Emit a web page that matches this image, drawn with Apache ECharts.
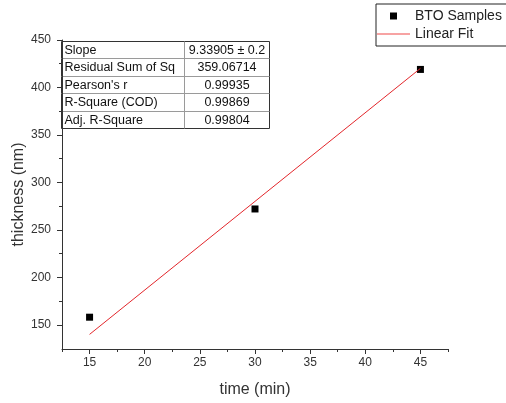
<!DOCTYPE html>
<html><head><meta charset="utf-8">
<script src="https://cdn.jsdelivr.net/npm/echarts@6/dist/echarts.min.js"></script>
<style>html,body{margin:0;padding:0;background:#fff}#c{width:506px;height:403px}</style>
</head><body><div id="c"></div>
<script>
const times = [15, 30, 45];
const thickness = [158, 272, 419];
const fitTimes = [15, 45];
const fitValues = [139.9, 420.1];
const xTicks = [15, 20, 25, 30, 35, 40, 45];
const xMinorTicks = [12.5, 17.5, 22.5, 27.5, 32.5, 37.5, 42.5, 47.5];
const yTicks = [150, 200, 250, 300, 350, 400, 450];
const yMinorTicks = [175, 225, 275, 325, 375, 425];
const tableLabels = ['Slope', 'Residual Sum of Sq', "Pearson's r", 'R-Square (COD)', 'Adj. R-Square'];
const tableValues = ['9.33905 ± 0.2', '359.06714', '0.99935', '0.99869', '0.99804'];
const seriesNames = ['BTO Samples', 'Linear Fit'];

const FONT = "'Liberation Sans', Arial, sans-serif";
const AX = '#333';
const RED = '#e3262b';

// table graphic
const rowH = [0, 17, 35, 52, 70, 87];
const colW1 = 123, tblW = 208;
const tableEls = [];
tableEls.push({type: 'rect', shape: {x: 0, y: 0, width: tblW, height: 87}, style: {fill: '#fff', stroke: '#333', lineWidth: 1}});
for (let i = 1; i < 5; i++) {
  tableEls.push({type: 'line', shape: {x1: 0, y1: rowH[i], x2: tblW, y2: rowH[i]}, style: {stroke: '#9a9a9a', lineWidth: 1}});
}
tableEls.push({type: 'line', shape: {x1: colW1, y1: 0, x2: colW1, y2: 87}, style: {stroke: '#9a9a9a', lineWidth: 1}});
tableLabels.forEach((t, i) => {
  const cy = (rowH[i] + rowH[i + 1]) / 2 + 0.5;
  tableEls.push({type: 'text', style: {text: t, x: 3, y: cy, fill: '#111', font: '12.5px ' + FONT, verticalAlign: 'middle', align: 'left'}});
  tableEls.push({type: 'text', style: {text: tableValues[i], x: colW1 + (tblW - colW1) / 2, y: cy, fill: '#111', font: '12.5px ' + FONT, verticalAlign: 'middle', align: 'center'}});
});

const chart = echarts.init(document.getElementById('c'), null, {renderer: 'canvas'});
const xBase = {type: 'value', min: 12.5, max: 47.5, splitLine: {show: false}};
const yBase = {type: 'value', min: 124.5, max: 450, splitLine: {show: false}};
chart.setOption({
  animation: false,
  backgroundColor: '#fff',
  textStyle: {fontFamily: FONT},
  grid: {left: 62, right: 58, top: 40, bottom: 51},
  legend: {
    orient: 'vertical', left: 376, top: 4,
    padding: [5, 40, 5, 1],
    borderColor: '#222', borderWidth: 1,
    itemWidth: 33, itemHeight: 7, itemGap: 4,
    symbolKeepAspect: true,
    textStyle: {fontSize: 14, color: '#222', fontFamily: FONT, lineHeight: 14},
    data: [
      {name: seriesNames[0], icon: 'path://M0,0H10V10H0Z', itemStyle: {color: '#000', opacity: 1}},
      {name: seriesNames[1], icon: 'path://M0,0H33V1.2H0Z', itemStyle: {color: '#f04848'}}
    ]
  },
  xAxis: [
    Object.assign({}, xBase, {
      name: 'time (min)', nameLocation: 'middle', nameGap: 33, nameMoveOverlap: false,
      nameTextStyle: {fontSize: 16, color: '#333', fontFamily: FONT},
      axisLine: {show: true, lineStyle: {color: AX, width: 1}},
      axisTick: {show: true, length: 5, customValues: xTicks, lineStyle: {color: AX}},
      axisLabel: {customValues: xTicks, fontSize: 12, color: '#333', margin: 8, fontFamily: FONT}
    }),
    Object.assign({}, xBase, {
      position: 'bottom',
      axisLine: {show: false},
      axisTick: {show: true, length: 3, customValues: xMinorTicks, lineStyle: {color: AX}},
      axisLabel: {show: false}
    })
  ],
  yAxis: [
    Object.assign({}, yBase, {
      name: 'thickness (nm)', nameLocation: 'middle', nameGap: 35, nameRotate: 90, nameMoveOverlap: false,
      nameTextStyle: {fontSize: 16, color: '#333', fontFamily: FONT},
      axisLine: {show: true, lineStyle: {color: AX, width: 1}},
      axisTick: {show: true, length: 5, customValues: yTicks, lineStyle: {color: AX}},
      axisLabel: {customValues: yTicks, fontSize: 12, color: '#333', margin: 11, fontFamily: FONT}
    }),
    Object.assign({}, yBase, {
      position: 'left',
      axisLine: {show: false},
      axisTick: {show: true, length: 3, customValues: yMinorTicks, lineStyle: {color: AX}},
      axisLabel: {show: false}
    })
  ],
  series: [
    {
      name: seriesNames[0], type: 'scatter', symbol: 'rect', symbolSize: 7,
      itemStyle: {color: '#000', opacity: 1}, z: 2,
      data: times.map((t, i) => [t, thickness[i]])
    },
    {
      name: seriesNames[1], type: 'line', symbol: 'none', showSymbol: false,
      lineStyle: {color: RED, width: 1}, itemStyle: {color: RED}, z: 3,
      data: fitTimes.map((t, i) => [t, fitValues[i]])
    }
  ],
  graphic: [{type: 'group', x: 61.5, y: 41.5, z: 10, children: tableEls}]
});
</script>
</body></html>
